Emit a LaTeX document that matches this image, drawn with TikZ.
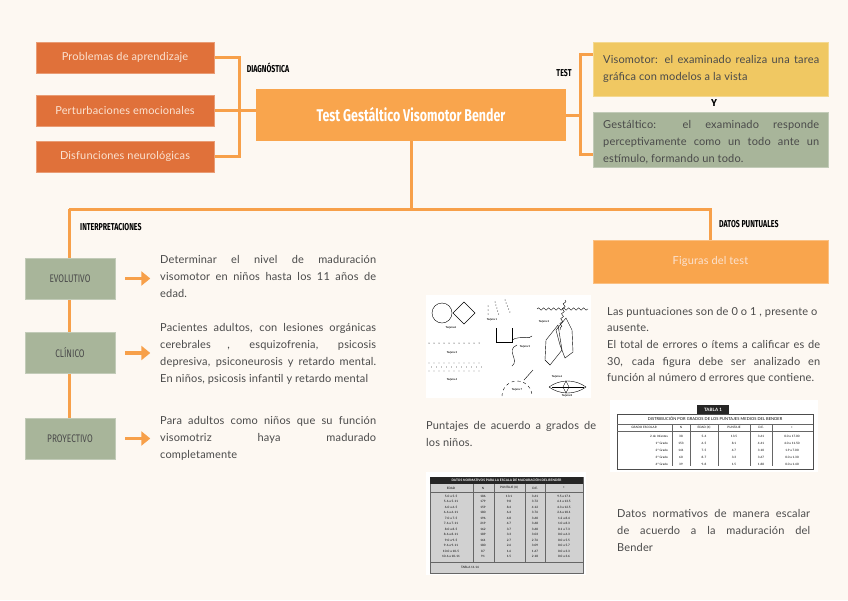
\documentclass[tikz,border=0pt]{standalone}
\usepackage{fontspec}
\setmainfont{Lato}[LetterSpace=1.5]
\newfontfamily\condf{Fira Sans}
\usetikzlibrary{arrows.meta,backgrounds,shapes.geometric,decorations.pathmorphing}
\definecolor{bgc}{HTML}{FDF8F2}
\definecolor{dorange}{HTML}{E0713A}
\definecolor{lorange}{HTML}{F9A54D}
\definecolor{lineor}{HTML}{F7A04A}
\definecolor{ylw}{HTML}{F0C862}
\definecolor{grn}{HTML}{A8B59A}
\definecolor{txtg}{HTML}{4A4A4A}
\definecolor{lighttxt}{HTML}{FBE3D2}
\hyphenpenalty=10000
\exhyphenpenalty=10000
\tikzset{
  conn/.style={draw=lineor,line width=3pt},
  arr/.style={draw=lineor,line width=3.5pt,-{Triangle[length=9pt,width=14pt]}},
  leftbox/.style={fill=dorange,draw=dorange!70!white,line width=0.6pt,minimum width=178pt,minimum height=31pt,inner sep=0pt,font=\fontsize{11}{13}\selectfont,text=lighttxt},
  greenbox/.style={fill=grn,draw=grn!70!white,line width=0.6pt,minimum width=90pt,minimum height=41pt,inner sep=0pt,text=txtg},
  desc/.style={text width=216pt,align=justify,inner sep=0pt,font=\fontsize{11}{17}\selectfont,text=txtg,anchor=north west},
  lbl/.style={inner sep=0pt,text=black},
  fig/.style={draw=black,line width=0.4pt},
}
\newcommand{\cond}[2]{\scalebox{#1}[1]{#2}}
\begin{document}
\begin{tikzpicture}[x=1pt,y=-1pt]
\useasboundingbox (0,0) rectangle (848,600);
% ---------- nodes ----------
\node[leftbox] (prob) at (125,57.5) {Problemas de aprendizaje};
\node[leftbox] (pert) at (125,110.5) {Perturbaciones emocionales};
\node[leftbox] (dis)  at (125,156.5) {Disfunciones neurológicas};
\node[fill=lorange,minimum width=310pt,minimum height=52pt,inner sep=0pt,text=white,font=\condf\bfseries\fontsize{17}{20}\selectfont] (main) at (411,115) {\cond{0.73}{Test Gestáltico Visomotor Bender}};
\node[fill=ylw,draw=ylw!70!white,line width=0.6pt,minimum width=235pt,minimum height=54pt,inner sep=0pt] (viso) at (710.5,69) {};
\node[desc] (visotxt) at (603,55) {Visomotor: el examinado realiza una tarea\linebreak gráfica con modelos a la vista};
\node[fill=grn,draw=grn!70!white,line width=0.6pt,minimum width=235pt,minimum height=55pt,inner sep=0pt] (gest) at (710.5,139.5) {};
\node[desc] (gesttxt) at (603,120) {Gestáltico: el examinado responde\linebreak perceptivamente como un todo ante un\linebreak estímulo, formando un todo.};
\node[lbl,font=\condf\bfseries\fontsize{10}{12}\selectfont] (ylab) at (714,103) {Y};
\node[lbl,font=\condf\bfseries\fontsize{10}{12}\selectfont] (diag) at (268,68) {\cond{0.7}{DIAGNÓSTICA}};
\node[lbl,font=\condf\bfseries\fontsize{10}{12}\selectfont] (testl) at (564,73) {\cond{0.7}{TEST}};
\node[lbl,font=\condf\bfseries\fontsize{10}{12}\selectfont,anchor=west] (interp) at (80,227) {\cond{0.7}{INTERPRETACIONES}};
\node[lbl,font=\condf\bfseries\fontsize{10}{12}\selectfont,anchor=west] (datos) at (719,224) {\cond{0.7}{DATOS PUNTUALES}};
% green boxes
\node[greenbox] (evo) at (70,278.5) {\condf\fontsize{11}{13}\selectfont\cond{0.75}{EVOLUTIVO}};
\node[greenbox] (cli) at (70,353) {\condf\fontsize{11}{13}\selectfont\cond{0.75}{CLÍNICO}};
\node[greenbox] (pro) at (70,438.5) {\condf\fontsize{11}{13}\selectfont\cond{0.75}{PROYECTIVO}};
\node[desc] (evotxt) at (160,255) {Determinar el nivel de maduración\linebreak visomotor en niños hasta los 11 años de\linebreak edad.};
\node[desc] (clitxt) at (160,323) {Pacientes adultos, con lesiones orgánicas\linebreak cerebrales , esquizofrenia, psicosis\linebreak depresiva, psiconeurosis y retardo mental.\linebreak En niños, psicosis infantil y retardo mental};
\node[desc] (protxt) at (160,416) {Para adultos como niños que su función\linebreak visomotriz haya madurado\linebreak completamente};
% right column
\node[fill=lorange,draw=lorange!70!white,line width=0.6pt,minimum width=235pt,minimum height=43pt,inner sep=0pt,text=lighttxt,font=\fontsize{11}{13}\selectfont] (figs) at (710.5,261.5) {Figuras del test};
\node[desc,text width=213pt,font=\fontsize{11}{16.6}\selectfont] (punt) at (607,307) {Las puntuaciones son de 0 o 1 , presente o\\ ausente.\\ El total de errores o ítems a calificar es de\linebreak 30, cada figura debe ser analizado en\linebreak función al número d errores que contiene.};
\node[desc,text width=170pt] (grados) at (426,421) {Puntajes de acuerdo a grados de\linebreak los niños.};
\node[desc,text width=193pt] (norm) at (617,509) {Datos normativos de manera escalar\linebreak de acuerdo a la maduración del\linebreak Bender};
% figure image
\node[fill=white,minimum width=165pt,minimum height=103pt,inner sep=0pt] (figimg) at (508.5,346.5) {};
% table 1 image
\node[fill=white,minimum width=208pt,minimum height=72pt,inner sep=0pt] (tab1) at (714,436) {};
% table 2 image
\node[fill=white,minimum width=160pt,minimum height=103pt,inner sep=0pt] (tab2) at (506,523.5) {};
% ---------- background & connectors ----------
\begin{scope}[on background layer]
\fill[bgc] (0,0) rectangle (848,600);
\coordinate (bl) at (239,111);
\draw[conn] (prob.east) -| (bl) |- (dis.east);
\draw[conn] (pert.east) -- (pert.east -| main.west);
\coordinate (tt) at (580,54);
\coordinate (tb) at (580,154);
\draw[conn] (main.east) -- (main.east -| tt);
\draw[conn] (viso.west |- tt) -- (tt) -- (tb) -- (gest.west |- tb);
\coordinate (hl) at (69,209);
\coordinate (hr) at (figs.north |- hl);
\draw[conn] (main.south) -- (main.south |- hl);
\draw[conn] (hl) -- (hr) -- (figs.north);
\draw[conn] (hl) -- (pro.north -| hl);
\end{scope}
\draw[arr] ([xshift=10pt]evo.east) -- ([xshift=35pt]evo.east);
\draw[arr] ([xshift=10pt]cli.east) -- ([xshift=35pt]cli.east);
\draw[arr] ([xshift=10pt]pro.east) -- ([xshift=35pt]pro.east);
% ---------- figure sketches ----------
\begin{scope}[fig]
\draw (442,313) circle (10);
\draw (453,313) -- (464,302) -- (475,313) -- (464,324) -- cycle;
\foreach \x in {429,434,...,480} \fill (\x,343) circle (0.5);
\foreach \x in {429,434,...,480} {\fill (\x,363) circle (0.45); \fill (\x+2.5,367) circle (0.45); \fill (\x,371) circle (0.45);}
\foreach \y in {0,4,8} {\fill (488,306+\y) circle (0.5);}
\foreach \y in {0,3,6,9,12} {\fill (495+\y*0.3,302+\y) circle (0.5); \fill (505+\y*0.4,300+\y) circle (0.5);}
\draw (496,328) -- (496,342) -- (512,342) -- (512,328);
\draw (512,340) .. controls (520,335) and (530,340) .. (532,336);
\draw (517,345) .. controls (505,350) and (520,360) .. (512,366);
\draw[decorate,decoration={snake,amplitude=1.2pt,segment length=5pt}] (537,309) -- (588,309);
\draw[decorate,decoration={snake,amplitude=1.2pt,segment length=5pt}] (565,300) -- (560,330);
\draw (556,330) -- (566,318) -- (572,330) -- (573,352) -- (565,358) -- (560,345) -- cycle;
\draw (546,340) -- (558,325) -- (562,350) -- (550,365) -- (545,360) -- cycle;
\draw[dashed] (502,396) arc (180:360:15);
\draw (524,380) -- (533,370);
\draw (549,387) .. controls (560,379) and (575,379) .. (586,387) .. controls (575,395) and (560,395) .. (549,387);
\draw (552,387) -- (584,387);
\draw (566,381) -- (569,387) -- (566,393) -- (563,387) -- cycle;
\foreach \p/\t in {{451,328}/Tarjeta A,{492,320}/Tarjeta 1,{544,322}/Tarjeta 2,{452,353}/Tarjeta 3,{452,380}/Tarjeta 4,{525,347}/Tarjeta 5,{557,377}/Tarjeta 6,{517,390}/Tarjeta 7,{567,396}/Tarjeta 8}
  \node[font=\fontsize{2.6}{3}\selectfont\bfseries,inner sep=0pt] at (\p) {\t};
\end{scope}
% ---------- table 1 ----------
\begin{scope}[font=\fontsize{3}{3.5}\selectfont]
\fill[black!85] (697,405) rectangle (729,414);
\node[text=white,inner sep=0pt,font=\fontsize{4.5}{5}\bfseries\selectfont] at (713,409.5) {TABLA 1};
\draw[black!70,line width=0.5pt] (617,414) rectangle (813,469);
\draw[black!60,line width=0.3pt] (617,424) -- (813,424);
\draw[black!60,line width=0.3pt] (617,431) -- (813,431);
\node[inner sep=0pt,font=\fontsize{4}{4.5}\selectfont] at (715,419) {DISTRIBUCIÓN POR GRADOS DE LOS PUNTAJES MEDIOS DEL BENDER};
\foreach \x in {672,690,718,750,772} \draw[black!60,line width=0.3pt] (\x,424) -- (\x,466);
\foreach \x/\t in {644/GRADO ESCOLAR,681/N,704/EDAD (X),734/PUNTAJE,761/D.E.,792/+/- D.E.} \node[inner sep=0pt] at (\x,427.5) {\t};
\foreach \r/\a/\b/\c/\d/\e/\f in {0/2 de Infantes/38/5-4/13.5/3.61/0.0 a 17.00,1/1º Grado/153/6-5/8.1/4.41/4.0 a 11.50,2/2º Grado/141/7-5/4.7/3.10/1.9 a 7.00,3/3º Grado/60/8-7/3.3/3.67/0.0 a 1.30,4/4º Grado/39/9-8/1.5/1.88/0.0 a 1.40}
  {\node[inner sep=0pt,anchor=east] at (668,436+\r*7) {\a};
   \node[inner sep=0pt] at (681,436+\r*7) {\b};
   \node[inner sep=0pt] at (704,436+\r*7) {\c};
   \node[inner sep=0pt] at (734,436+\r*7) {\d};
   \node[inner sep=0pt] at (761,436+\r*7) {\e};
   \node[inner sep=0pt] at (792,436+\r*7) {\f};}
\end{scope}
% ---------- table 2 ----------
\begin{scope}[font=\fontsize{3}{3.5}\selectfont]
\fill[black!18] (430,477) rectangle (583,573);
\draw[black!60,line width=0.5pt] (430,477) rectangle (583,573);
\fill[black!85] (430,477) rectangle (583,484);
\node[text=white,inner sep=0pt,font=\fontsize{3.2}{3.5}\bfseries\selectfont] at (506.5,480.5) {DATOS NORMATIVOS PARA LA ESCALA DE MADURACIÓN DEL BENDER};
\draw[black!60,line width=0.3pt] (430,492) -- (583,492);
\draw[black!60,line width=0.3pt] (430,562) -- (583,562);
\foreach \x in {473,494,525,545} \draw[black!60,line width=0.3pt] (\x,484) -- (\x,562);
\foreach \x/\t in {451/EDAD,483/N,509/PUNTAJE (X),535/D.E.,564/+/- D.E.} \node[inner sep=0pt] at (\x,488) {\t};
\foreach \r/\a/\b/\c/\d/\e in {0/5-0 a 5-5/186/13.1/3.61/9.5 a 17.1,1/5-6 a 5-11/179/9.8/3.72/6.1 a 13.5,2/6-0 a 6-5/159/8.4/4.12/4.3 a 12.5,3/6-6 a 6-11/180/6.4/3.76/2.6 a 10.1,4/7-0 a 7-5/196/4.8/3.60/1.2 a 8.4,5/7-6 a 7-11/219/4.7/3.68/1.0 a 8.3,6/8-0 a 8-5/162/3.7/3.60/0.1 a 7.3,7/8-6 a 8-11/189/3.3/3.03/0.0 a 6.3,8/9-0 a 9-5/161/2.7/2.76/0.0 a 5.5,9/9-6 a 9-11/180/2.6/3.09/0.0 a 5.7,10/10-0 a 10-5/87/1.6/1.67/0.0 a 3.3,11/10-6 a 10-11/91/1.5/2.18/0.0 a 3.6}
  {\node[inner sep=0pt] at (451,496+\r*5.5) {\a};
   \node[inner sep=0pt] at (483,496+\r*5.5) {\b};
   \node[inner sep=0pt] at (509,496+\r*5.5) {\c};
   \node[inner sep=0pt] at (535,496+\r*5.5) {\d};
   \node[inner sep=0pt] at (564,496+\r*5.5) {\e};}
\node[inner sep=0pt] at (470,567) {TABLA 11.14};
\end{scope}
\end{tikzpicture}
\end{document}
